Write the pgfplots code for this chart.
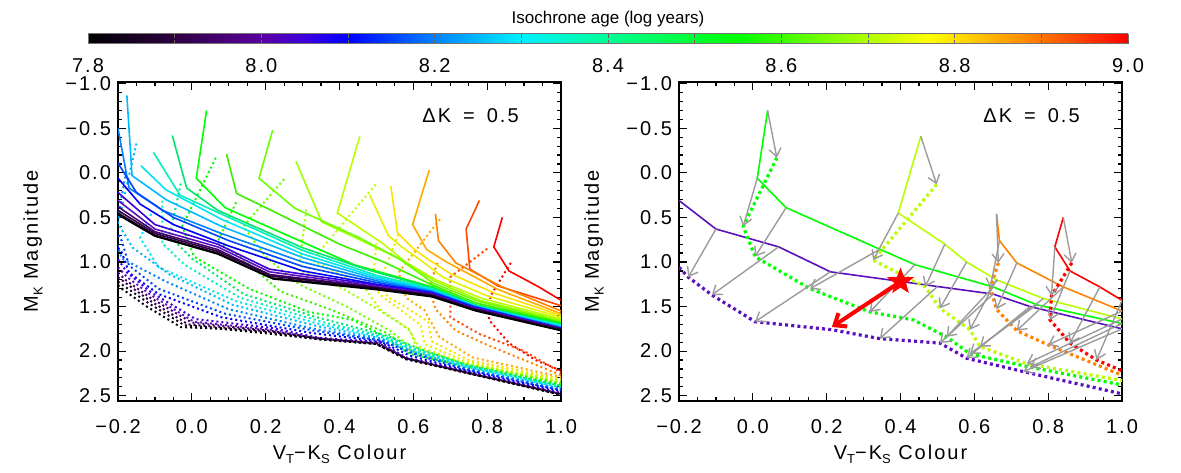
\documentclass[border=0pt]{standalone}
\usepackage{fontspec}
\setmainfont{Liberation Sans}
\newfontfamily\tf{Liberation Sans}[LetterSpace=10]
\usepackage{pgfplots}
\pgfplotsset{compat=1.18}
\usetikzlibrary{arrows.meta}

\newcommand\sub[1]{\raisebox{-0.45ex}{\fontsize{6.5}{7}\selectfont #1}}

\definecolor{c780}{RGB}{0,0,0}
\definecolor{c785}{RGB}{25,0,35}
\definecolor{c790}{RGB}{45,0,65}
\definecolor{c795}{RGB}{70,0,110}
\definecolor{c800}{RGB}{90,16,190}
\definecolor{c805}{RGB}{60,0,220}
\definecolor{c810}{RGB}{0,0,255}
\definecolor{c815}{RGB}{0,70,255}
\definecolor{c820}{RGB}{0,130,255}
\definecolor{c825}{RGB}{0,185,255}
\definecolor{c830}{RGB}{0,230,240}
\definecolor{c835}{RGB}{0,240,190}
\definecolor{c845}{RGB}{0,230,110}
\definecolor{c855}{RGB}{0,255,0}
\definecolor{c860}{RGB}{60,240,0}
\definecolor{c865}{RGB}{110,255,0}
\definecolor{c870}{RGB}{160,255,0}
\definecolor{c875}{RGB}{185,255,0}
\definecolor{c878}{RGB}{230,240,0}
\definecolor{c880}{RGB}{250,225,0}
\definecolor{c885}{RGB}{255,170,0}
\definecolor{c890}{RGB}{255,130,0}
\definecolor{c895}{RGB}{255,70,0}
\definecolor{c900}{RGB}{255,0,0}
\definecolor{arr}{RGB}{155,155,155}

\pgfplotsset{colormap={idl}{rgb255(0cm)=(0,0,0); rgb255(10cm)=(45,0,65); rgb255(20cm)=(90,0,160); rgb255(25cm)=(60,0,220); rgb255(30cm)=(0,0,255); rgb255(40cm)=(0,130,255); rgb255(50cm)=(0,240,255); rgb255(60cm)=(0,255,150); rgb255(75cm)=(0,255,0); rgb255(85cm)=(120,255,0); rgb255(97cm)=(255,255,0); rgb255(108cm)=(255,140,0); rgb255(120cm)=(255,0,0)}}

\pgfdeclareplotmark{fstar}{%
  \pgfpathmoveto{\pgfpointpolar{90}{\pgfplotmarksize}}%
  \pgfpathlineto{\pgfpointpolar{126}{0.42\pgfplotmarksize}}%
  \pgfpathlineto{\pgfpointpolar{162}{\pgfplotmarksize}}%
  \pgfpathlineto{\pgfpointpolar{198}{0.42\pgfplotmarksize}}%
  \pgfpathlineto{\pgfpointpolar{234}{\pgfplotmarksize}}%
  \pgfpathlineto{\pgfpointpolar{270}{0.42\pgfplotmarksize}}%
  \pgfpathlineto{\pgfpointpolar{306}{\pgfplotmarksize}}%
  \pgfpathlineto{\pgfpointpolar{342}{0.42\pgfplotmarksize}}%
  \pgfpathlineto{\pgfpointpolar{18}{\pgfplotmarksize}}%
  \pgfpathlineto{\pgfpointpolar{54}{0.42\pgfplotmarksize}}%
  \pgfpathclose
  \pgfusepathqfillstroke
}

\pgfplotsset{
  sol/.style={line width=0.8pt},
  dotL/.style={line width=1pt, dash pattern=on 1pt off 1.5pt},
  dotR/.style={line width=1.6pt, dash pattern=on 1.5pt off 1.6pt},
  panel/.style={
    scale only axis, width=221.5pt, height=159.5pt,
    xmin=-0.2, xmax=1.0, ymin=-1.02, ymax=2.56, y dir=reverse,
    xtick={-0.2,0,0.2,0.4,0.6,0.8,1.0},
    xticklabels={−0.2,0.0,0.2,0.4,0.6,0.8,1.0},
    ytick={-1,-0.5,0,0.5,1,1.5,2,2.5},
    yticklabels={−1.0,−0.5,0.0,0.5,1.0,1.5,2.0,2.5},
    minor x tick num=3, minor y tick num=4,
    tick align=inside, tick pos=both, xticklabel pos=lower, yticklabel pos=left,
    major tick length=4pt, minor tick length=2pt,
    every tick/.style={black, line width=0.6pt},
    axis line style={line width=0.7pt},
    tick label style={font=\tf\fontsize{10}{12}\selectfont},
    xticklabel shift=5.5pt,
    label style={font=\tf\fontsize{10}{12}\selectfont},
    xlabel={V\sub{T}−K\sub{S} Colour},
    ylabel={M\sub{K} Magnitude},
    xlabel style={at={(axis description cs:0.5,-0.182)}, anchor=base},
    ylabel style={at={(axis description cs:-0.192,0.5)}, anchor=center},
  }
}

\begin{document}
\begin{tikzpicture}
\useasboundingbox (0,0) rectangle (590.5pt,236pt);

% ---------------- left panel ----------------
\begin{axis}[panel, at={(59pt,35.5pt)}, anchor=south west]
% dotted (shifted) isochrones
\addplot[c900,dotL] coordinates {(0.864,1.01) (0.809,1.38) (0.805,1.65) (0.859,1.91) (0.931,2.10) (1.0,2.22)};
\addplot[c895,dotL] coordinates {(0.80,0.85) (0.70,1.17) (0.70,1.62) (0.78,1.81) (0.90,2.0) (1.0,2.24)};
\addplot[c890,dotL] coordinates {(0.665,1.01) (0.643,1.29) (0.66,1.53) (0.715,1.77) (0.80,1.93) (1.0,2.27)};
\addplot[c885,dotL] coordinates {(0.672,0.52) (0.56,1.12) (0.58,1.40) (0.63,1.54) (0.67,1.84) (0.76,2.07) (1.0,2.29)};
\addplot[c880,dotL] coordinates {(0.56,0.69) (0.51,1.21) (0.53,1.39) (0.58,1.51) (0.64,1.67) (0.65,1.89) (0.75,2.10) (1.0,2.31)};
\addplot[c878,dotL] coordinates {(0.50,0.79) (0.49,1.24) (0.51,1.37) (0.56,1.52) (0.62,1.71) (0.63,1.92) (0.745,2.12) (1.0,2.32)};
\addplot[c875,dotL] coordinates {(0.498,0.13) (0.326,0.98) (0.467,1.28) (0.507,1.52) (0.588,1.76) (0.615,1.95) (0.742,2.14) (1.0,2.33)};
\addplot[c870,dotL] coordinates {(0.31,0.41) (0.29,1.09) (0.41,1.30) (0.50,1.52) (0.59,1.76) (0.61,1.97) (0.745,2.145) (1.0,2.35)};
\addplot[c865,dotL] coordinates {(0.25,0.07) (0.14,0.60) (0.20,0.94) (0.29,1.25) (0.42,1.50) (0.54,1.78) (0.60,1.98) (0.75,2.155) (1.0,2.36)};
\addplot[c860,dotL] coordinates {(0.12,0.33) (0.07,0.77) (0.14,0.97) (0.24,1.33) (0.38,1.54) (0.53,1.80) (0.595,2.0) (0.75,2.165) (1.0,2.37)};
\addplot[c855,dotL] coordinates {(0.065,-0.17) (-0.026,0.60) (0.006,0.94) (0.155,1.30) (0.317,1.56) (0.435,1.65) (0.525,1.84) (0.588,2.03) (0.751,2.18) (1.0,2.38)};
\addplot[c845,dotL] coordinates {(-0.03,0.12) (-0.06,0.71) (0.0,0.96) (0.14,1.36) (0.33,1.61) (0.53,1.83) (0.62,1.98) (0.746,2.16) (1.0,2.39)};
\addplot[c835,dotL] coordinates {(-0.08,0.31) (-0.08,0.79) (-0.02,1.03) (0.13,1.40) (0.36,1.68) (0.525,1.84) (0.615,1.99) (0.744,2.16) (1.0,2.40)};
\addplot[c830,dotL] coordinates {(-0.11,0.46) (-0.14,0.73) (-0.09,1.06) (0.12,1.44) (0.35,1.70) (0.52,1.85) (0.61,2.00) (0.742,2.17) (1.0,2.41)};
\addplot[c825,dotL] coordinates {(-0.15,-0.33) (-0.20,0.57) (-0.16,0.84) (-0.06,1.14) (0.11,1.48) (0.34,1.72) (0.515,1.86) (0.605,2.01) (0.74,2.18) (1.0,2.42)};
\addplot[c820,dotL] coordinates {(-0.18,0.04) (-0.21,0.71) (-0.19,0.96) (-0.07,1.22) (0.10,1.53) (0.33,1.75) (0.51,1.87) (0.60,2.02) (0.738,2.19) (1.0,2.43)};
\addplot[c815,dotL] coordinates {(-0.2,0.70) (-0.19,0.76) (-0.17,1.04) (-0.09,1.30) (0.09,1.58) (0.33,1.77) (0.51,1.88) (0.60,2.03) (0.737,2.20) (1.0,2.44)};
\addplot[c810,dotL] coordinates {(-0.2,0.84) (-0.19,0.89) (-0.17,1.12) (-0.09,1.36) (0.08,1.62) (0.33,1.80) (0.51,1.89) (0.59,2.05) (0.735,2.21) (1.0,2.45)};
\addplot[c805,dotL] coordinates {(-0.2,0.97) (-0.175,1.12) (-0.11,1.34) (0.01,1.64) (0.215,1.74) (0.345,1.85) (0.51,1.90) (0.58,2.07) (0.735,2.22) (1.0,2.47)};
\addplot[c800,dotL] coordinates {(-0.2,1.06) (-0.175,1.17) (-0.111,1.37) (0.006,1.67) (0.214,1.76) (0.344,1.86) (0.507,1.91) (0.579,2.08) (0.733,2.23) (1.0,2.48)};
\addplot[c795,dotL] coordinates {(-0.2,1.12) (-0.177,1.21) (-0.113,1.40) (0.0,1.68) (0.21,1.77) (0.345,1.86) (0.505,1.91) (0.58,2.08) (0.735,2.23) (1.0,2.48)};
\addplot[c790,dotL] coordinates {(-0.2,1.17) (-0.178,1.24) (-0.115,1.43) (-0.01,1.70) (0.21,1.78) (0.35,1.86) (0.50,1.92) (0.58,2.08) (0.735,2.235) (1.0,2.485)};
\addplot[c785,dotL] coordinates {(-0.2,1.22) (-0.18,1.28) (-0.118,1.46) (-0.02,1.71) (0.10,1.75) (0.21,1.79) (0.35,1.87) (0.50,1.92) (0.58,2.09) (0.74,2.24) (1.0,2.49)};
\addplot[c780,dotL] coordinates {(-0.2,1.26) (-0.186,1.31) (-0.122,1.50) (-0.03,1.73) (0.08,1.75) (0.20,1.80) (0.35,1.87) (0.50,1.92) (0.58,2.09) (0.74,2.24) (1.0,2.49)};
% solid isochrones
\addplot[c900,sol] coordinates {(0.841,0.50) (0.818,0.83) (0.859,1.10) (0.940,1.28) (1.0,1.43)};
\addplot[c895,sol] coordinates {(0.779,0.31) (0.743,0.63) (0.753,1.08) (0.83,1.27) (1.0,1.49)};
\addplot[c890,sol] coordinates {(0.660,0.46) (0.668,0.76) (0.715,1.01) (0.841,1.28) (1.0,1.55)};
\addplot[c885,sol] coordinates {(0.643,-0.03) (0.598,0.58) (0.636,0.86) (0.69,1.0) (0.83,1.31) (1.0,1.58)};
\addplot[c880,sol] coordinates {(0.539,0.15) (0.557,0.67) (0.60,0.85) (0.64,0.97) (0.70,1.13) (0.82,1.35) (1.0,1.60)};
\addplot[c878,sol] coordinates {(0.482,0.25) (0.532,0.70) (0.568,0.83) (0.62,0.98) (0.68,1.17) (0.80,1.38) (1.0,1.62)};
\addplot[c875,sol] coordinates {(0.455,-0.41) (0.394,0.45) (0.52,0.80) (0.579,1.0) (0.66,1.20) (0.787,1.41) (1.0,1.64)};
\addplot[c870,sol] coordinates {(0.282,-0.13) (0.352,0.55) (0.46,0.76) (0.57,0.98) (0.66,1.22) (0.78,1.43) (1.0,1.655)};
\addplot[c865,sol] coordinates {(0.219,-0.48) (0.182,0.06) (0.28,0.40) (0.45,0.72) (0.56,0.96) (0.655,1.24) (0.775,1.44) (1.0,1.67)};
\addplot[c860,sol] coordinates {(0.094,-0.21) (0.121,0.23) (0.22,0.43) (0.40,0.80) (0.52,1.0) (0.652,1.26) (0.77,1.46) (1.0,1.68)};
\addplot[c855,sol] coordinates {(0.040,-0.70) (0.012,0.06) (0.09,0.39) (0.344,0.857) (0.439,1.03) (0.651,1.28) (0.769,1.48) (1.0,1.69)};
\addplot[c845,sol] coordinates {(-0.053,-0.42) (-0.014,0.17) (0.07,0.42) (0.30,0.84) (0.47,1.08) (0.65,1.29) (0.768,1.485) (1.0,1.70)};
\addplot[c835,sol] coordinates {(-0.104,-0.23) (-0.032,0.25) (0.10,0.50) (0.30,0.87) (0.50,1.15) (0.65,1.30) (0.767,1.49) (1.0,1.71)};
\addplot[c830,sol] coordinates {(-0.138,-0.08) (-0.07,0.19) (0.08,0.52) (0.30,0.91) (0.50,1.17) (0.65,1.31) (0.767,1.49) (1.0,1.72)};
\addplot[c825,sol] coordinates {(-0.176,-0.87) (-0.162,0.03) (-0.07,0.30) (0.08,0.60) (0.30,0.95) (0.50,1.19) (0.65,1.32) (0.765,1.495) (1.0,1.73)};
\addplot[c820,sol] coordinates {(-0.2,-0.5) (-0.17,0.17) (-0.08,0.42) (0.08,0.68) (0.30,1.00) (0.50,1.21) (0.65,1.33) (0.765,1.50) (1.0,1.735)};
\addplot[c815,sol] coordinates {(-0.2,-0.11) (-0.15,0.22) (-0.05,0.50) (0.10,0.76) (0.30,1.05) (0.50,1.23) (0.65,1.34) (0.765,1.50) (1.0,1.74)};
\addplot[c810,sol] coordinates {(-0.2,0.06) (-0.14,0.35) (-0.05,0.58) (0.10,0.82) (0.30,1.10) (0.50,1.25) (0.65,1.345) (0.76,1.505) (1.0,1.745)};
\addplot[c805,sol] coordinates {(-0.2,0.22) (-0.10,0.58) (0.07,0.80) (0.21,1.08) (0.50,1.26) (0.65,1.35) (0.75,1.50) (1.0,1.745)};
\addplot[c800,sol] coordinates {(-0.2,0.31) (-0.10,0.63) (0.07,0.83) (0.21,1.11) (0.50,1.275) (0.651,1.36) (0.751,1.50) (1.0,1.75)};
\addplot[c795,sol] coordinates {(-0.2,0.38) (-0.10,0.66) (0.07,0.86) (0.21,1.14) (0.50,1.285) (0.65,1.37) (0.76,1.52) (1.0,1.75)};
\addplot[c790,sol] coordinates {(-0.2,0.42) (-0.10,0.68) (0.07,0.88) (0.22,1.16) (0.50,1.29) (0.65,1.37) (0.76,1.53) (1.0,1.76)};
\addplot[c785,sol] coordinates {(-0.2,0.45) (-0.10,0.70) (0.07,0.90) (0.22,1.18) (0.50,1.30) (0.65,1.38) (0.77,1.54) (1.0,1.765)};
\addplot[c780,sol] coordinates {(-0.2,0.47) (-0.10,0.71) (0.07,0.91) (0.22,1.19) (0.50,1.31) (0.65,1.39) (0.77,1.55) (1.0,1.77)};
\node[font=\tf\fontsize{10}{12}\selectfont] at (axis cs:0.755,-0.64) {ΔK\hspace{6pt}=\hspace{6pt}0.5};
\end{axis}

% ---------------- right panel ----------------
\begin{axis}[panel, at={(339.5pt,35.5pt)}, anchor=south west]
\addplot[c800,sol] coordinates {(-0.2,0.31) (-0.10,0.63) (0.07,0.83) (0.21,1.11) (0.50,1.275) (0.651,1.36) (0.751,1.50) (1.0,1.75)};
\addplot[c855,sol] coordinates {(0.040,-0.70) (0.012,0.06) (0.09,0.39) (0.344,0.857) (0.439,1.03) (0.651,1.28) (0.769,1.48) (1.0,1.69)};
\addplot[c875,sol] coordinates {(0.455,-0.41) (0.394,0.45) (0.52,0.80) (0.579,1.0) (0.66,1.20) (0.787,1.41) (1.0,1.64)};
\addplot[c890,sol] coordinates {(0.660,0.46) (0.668,0.76) (0.715,1.01) (0.841,1.28) (1.0,1.55)};
\addplot[c900,sol] coordinates {(0.841,0.50) (0.818,0.83) (0.859,1.10) (0.940,1.28) (1.0,1.43)};
\addplot[c800,dotR] coordinates {(-0.2,1.06) (-0.175,1.17) (-0.111,1.37) (0.006,1.67) (0.214,1.76) (0.344,1.86) (0.507,1.91) (0.579,2.08) (0.733,2.23) (1.0,2.48)};
\addplot[c855,dotR] coordinates {(0.065,-0.17) (-0.026,0.60) (0.006,0.94) (0.155,1.30) (0.317,1.56) (0.435,1.65) (0.525,1.84) (0.588,2.03) (0.751,2.18) (1.0,2.38)};
\addplot[c875,dotR] coordinates {(0.498,0.13) (0.326,0.98) (0.467,1.28) (0.507,1.52) (0.588,1.76) (0.615,1.95) (0.742,2.14) (1.0,2.33)};
\addplot[c890,dotR] coordinates {(0.665,1.01) (0.643,1.29) (0.66,1.53) (0.715,1.77) (0.80,1.93) (1.0,2.27)};
\addplot[c900,dotR] coordinates {(0.864,1.01) (0.809,1.38) (0.805,1.65) (0.859,1.91) (0.931,2.10) (1.0,2.22)};
\addplot[arr, line width=0.7pt, -{Straight Barb[length=4pt,width=6pt]},
  quiver={u=\thisrow{xe}-\thisrow{x}, v=\thisrow{ye}-\thisrow{y}}] table {
x y xe ye
-0.10 0.63 -0.175 1.17
0.07 0.83 -0.111 1.37
0.21 1.11 0.006 1.67
0.50 1.275 0.344 1.86
0.651 1.36 0.507 1.91
0.751 1.50 0.579 2.08
1.0 1.75 0.733 2.23
0.040 -0.70 0.065 -0.17
0.012 0.06 -0.026 0.60
0.09 0.39 0.006 0.94
0.344 0.857 0.155 1.30
0.439 1.03 0.317 1.56
0.651 1.28 0.525 1.84
0.769 1.48 0.588 2.03
1.0 1.69 0.751 2.18
0.455 -0.41 0.498 0.13
0.394 0.45 0.326 0.98
0.52 0.80 0.467 1.28
0.579 1.0 0.507 1.52
0.66 1.20 0.588 1.76
0.787 1.41 0.615 1.95
1.0 1.64 0.742 2.14
0.660 0.46 0.665 1.01
0.668 0.76 0.643 1.29
0.715 1.01 0.66 1.53
0.841 1.28 0.715 1.77
1.0 1.55 0.80 1.93
0.841 0.50 0.864 1.01
0.818 0.83 0.809 1.38
0.859 1.10 0.805 1.65
0.940 1.28 0.859 1.91
1.0 1.43 0.931 2.10
};
\addplot[red, line width=2pt, -{Straight Barb[length=5pt,width=8pt]}] coordinates {(0.40,1.22) (0.214,1.73)};
\addplot[only marks, mark=fstar, mark size=6.5pt, mark options={fill=red, draw=red}] coordinates {(0.40,1.22)};
\node[font=\tf\fontsize{10}{12}\selectfont] at (axis cs:0.755,-0.64) {ΔK\hspace{6pt}=\hspace{6pt}0.5};
\end{axis}

% ---------------- colour bar ----------------
\begin{axis}[at={(44pt,214pt)}, anchor=south west, scale only axis,
  width=520pt, height=5pt, view={0}{90},
  xmin=7.8, xmax=9.0, ymin=0, ymax=1, ytick=\empty,
  xtick={7.8,8.0,8.2,8.4,8.6,8.8,9.0},
  xticklabels={7.8,8.0,8.2,8.4,8.6,8.8,9.0},
  minor xtick={7.9,8.1,8.3,8.5,8.7,8.9},
  tick align=inside, xtick pos=both, xticklabel pos=lower,
  major tick length=2pt, minor tick length=2pt,
  every tick/.style={black!60, line width=0.4pt},
  axis line style={black!55, line width=0.5pt},
  tick label style={font=\tf\fontsize{10}{12}\selectfont},
  xticklabel shift=3.5pt,
  colormap name=idl, point meta min=7.8, point meta max=9.0,
  title={Isochrone age (log years)},
  every axis title shift=0pt,
  title style={at={(0.5,1)}, anchor=base, yshift=5pt, font=\fontsize{8.5}{10}\selectfont},
  axis on top]
\addplot3[surf, shader=interp, point meta=x, mesh/rows=2, mesh/cols=13] table {
x y z
7.8 0 0
7.9 0 0
8.0 0 0
8.05 0 0
8.1 0 0
8.2 0 0
8.3 0 0
8.4 0 0
8.55 0 0
8.65 0 0
8.77 0 0
8.88 0 0
9.0 0 0
7.8 1 0
7.9 1 0
8.0 1 0
8.05 1 0
8.1 1 0
8.2 1 0
8.3 1 0
8.4 1 0
8.55 1 0
8.65 1 0
8.77 1 0
8.88 1 0
9.0 1 0
};
\end{axis}
\end{tikzpicture}
\end{document}
